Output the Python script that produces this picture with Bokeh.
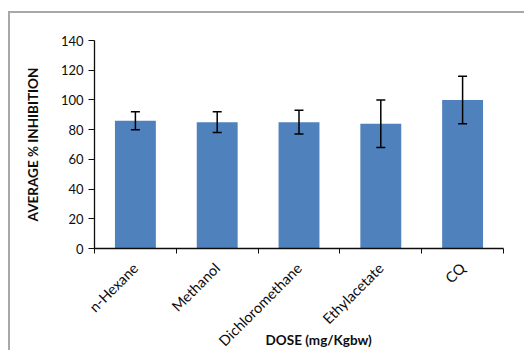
from bokeh.plotting import figure
from bokeh.models import ColumnDataSource, Whisker, TeeHead, FixedTicker, Range1d
from bokeh.embed import file_html
from bokeh.resources import INLINE

categories = ["n-Hexane", "Methanol", "Dichloromethane", "Ethylacetate", "CQ"]
values = [86, 85, 85, 84, 100]
errors = [6, 7, 8, 16, 16]
y_ticks = [0, 20, 40, 60, 80, 100, 120, 140]
x_title = "DOSE (mg/Kgbw)"
y_title = "AVERAGE % INHIBITION"

xs = [i + 0.5 for i in range(len(categories))]
src = ColumnDataSource(dict(
    x=xs, top=values,
    upper=[v + e for v, e in zip(values, errors)],
    lower=[v - e for v, e in zip(values, errors)],
))

FONT = "Lato"
TXT = "#0d0d0d"

p = figure(width=516, height=339, output_backend="svg", toolbar_location=None,
           x_range=Range1d(0, len(categories)), y_range=Range1d(0, 140),
           min_border_left=84, min_border_right=23, min_border_top=27, min_border_bottom=104)
p.styles = {"margin-left": "8px", "margin-top": "11px",
            "border-left": "2px solid #a8a8a8", "border-top": "2px solid #a8a8a8"}
p.outline_line_color = None
p.xgrid.visible = False
p.ygrid.visible = False

p.vbar(x="x", top="top", width=0.5, source=src, fill_color="#4F81BD", line_color=None)
w = Whisker(base="x", upper="upper", lower="lower", source=src, line_color="black", line_width=1.5,
            upper_head=TeeHead(size=9, line_color="black", line_width=1.5),
            lower_head=TeeHead(size=9, line_color="black", line_width=1.5),
            level="overlay")
p.add_layout(w)

xa = p.xaxis[0]
xa.ticker = FixedTicker(ticks=xs, minor_ticks=list(range(len(categories) + 1)))
xa.major_label_overrides = {x: c for x, c in zip(xs, categories)}
xa.major_label_orientation = 0.785398
xa.major_tick_out = 0
xa.major_tick_in = 0
xa.minor_tick_out = 5
xa.minor_tick_in = 0
xa.major_label_standoff = 12
# non-breaking spaces shift the centred title to the right, as in the reference
xa.axis_label = "\u00a0" * 12 + x_title
xa.axis_label_standoff = -26
xa.axis_label_text_font_style = "bold"
xa.axis_label_text_font_size = "13.5px"

ya = p.yaxis[0]
ya.ticker = FixedTicker(ticks=y_ticks)
ya.minor_tick_out = 0
ya.minor_tick_in = 0
ya.major_tick_out = 6
ya.major_tick_in = 0
ya.axis_label = y_title
ya.axis_label_standoff = 17
ya.axis_label_text_font_style = "bold"
ya.axis_label_text_font_size = "13.5px"

for ax in (xa, ya):
    ax.axis_line_color = TXT
    ax.major_tick_line_color = TXT
    ax.minor_tick_line_color = TXT
    ax.axis_line_width = 1.3
    ax.major_label_text_font = FONT
    ax.major_label_text_color = TXT
    ax.axis_label_text_font = FONT
    ax.axis_label_text_color = TXT
ya.major_label_text_font_size = "13px"
xa.major_label_text_font_size = "14.5px"

open("out.html", "w").write(file_html(p, INLINE))
